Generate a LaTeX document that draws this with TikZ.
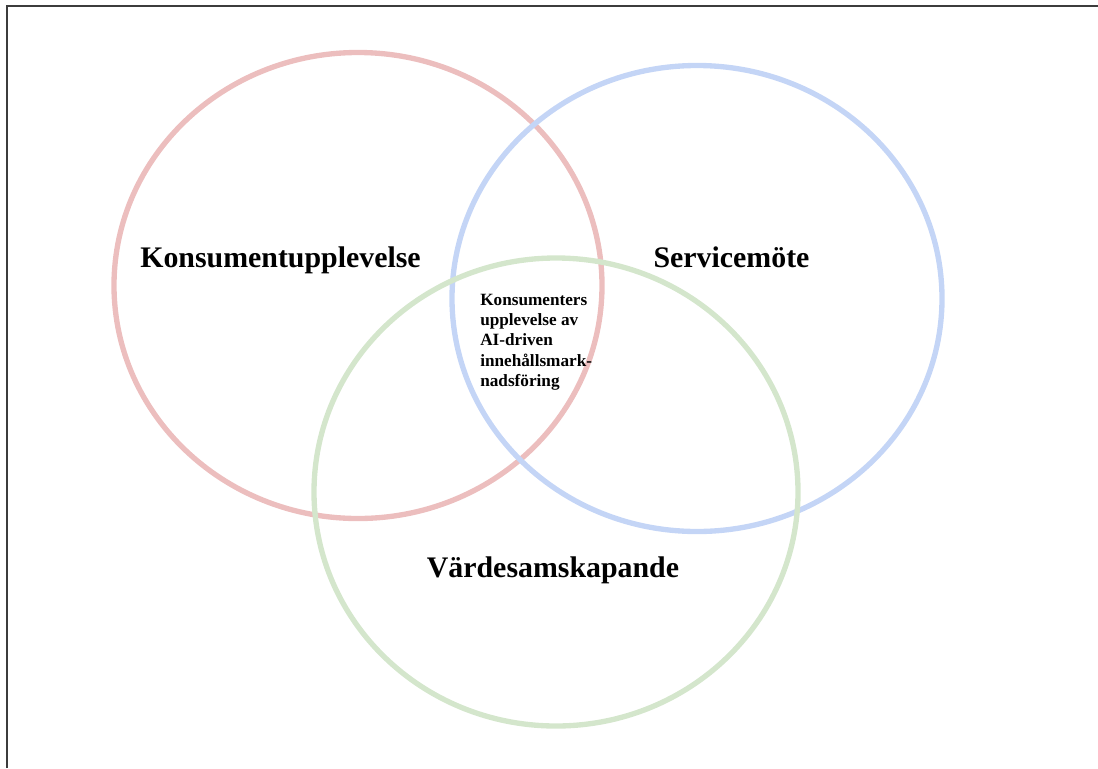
\documentclass[tikz,border=0pt]{standalone}
\usepackage{fontspec}
\setmainfont{Liberation Serif}
\definecolor{vennRed}{RGB}{236, 190, 190}
\definecolor{vennBlue}{RGB}{196, 213, 246}
\definecolor{vennGreen}{RGB}{212, 230, 204}
\definecolor{frameGray}{RGB}{60, 60, 60}
\tikzset{
  ring/.style={line width=4pt},
  biglabel/.style={anchor=base, font=\fontsize{22.4pt}{26pt}\selectfont\bfseries},
  smalllabel/.style={anchor=west, align=left, inner sep=0pt, font=\fontsize{12.9pt}{15.2pt}\selectfont\bfseries}
}

\begin{document}
\begin{tikzpicture}[x=0.75pt, y=-0.75pt]
        \useasboundingbox (0,0) rectangle (1098,768);
        \draw[frameGray, line width=1.6pt] (7,768) -- (7,6) -- (1098,6);
        \draw[ring, vennRed] (358,285.5) ellipse (244 and 233);
        \draw[ring, vennBlue] (697,298.5) ellipse (245 and 233);
        \draw[ring, vennGreen] (556,492) ellipse (242 and 234);
        \node[biglabel] (konsument) at (280.5,267) {Konsumentupplevelse};
        \node[biglabel] (service) at (731.5,267) {Servicemöte};
        \node[biglabel] (varde) at (553,577) {Värdesamskapande};
        \node[smalllabel] (mitten) at (480,342) {Konsumenters\\upplevelse av\\AI-driven\\innehållsmark-\\nadsföring};
      \end{tikzpicture}
\end{document}
